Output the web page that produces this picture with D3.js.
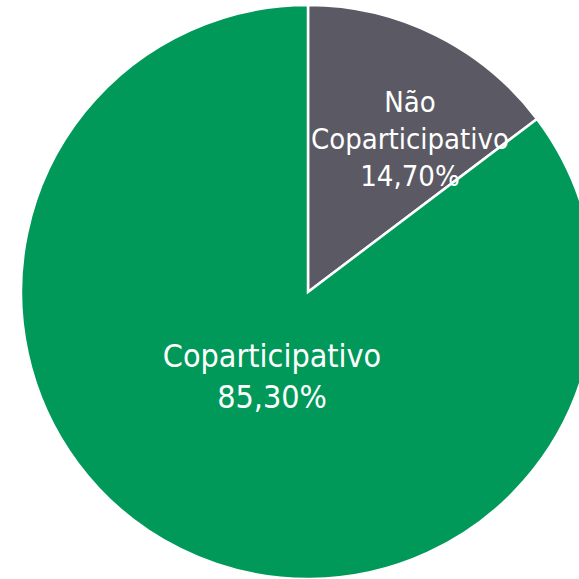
<!DOCTYPE html>
<html><head><meta charset="utf-8">
<script src="https://cdn.jsdelivr.net/npm/d3@7"></script>
<style>html,body{margin:0;padding:0;background:#fff;overflow:hidden}</style>
</head><body>
<svg id="c" width="579" height="579"></svg>
<script>
const categories = ["Não Coparticipativo", "Coparticipativo"];
const values = [14.70, 85.30];
const labelLines = [["Não", "Coparticipativo", "14,70%"], ["Coparticipativo", "85,30%"]];
const colors = ["#5b5a64", "#009959"];

const svg = d3.select("#c");
const cx = 308, cy = 292, r = 287;
const g = svg.append("g").attr("transform", `translate(${cx},${cy})`);
const pie = d3.pie().sort(null).value(d => d)(values);
const arc = d3.arc().innerRadius(0).outerRadius(r);
g.selectAll("path").data(pie).join("path")
  .attr("d", arc).attr("fill", (d,i) => colors[i])
  .attr("stroke", "#fff").attr("stroke-width", 2.5).attr("stroke-linejoin","miter");

// [x, first baseline y, line height, font size] relative to centre
const labelPos = [[102, -180, 37, 29], [-36, 75, 41, 32]];
pie.forEach((d, i) => {
  const lines = labelLines[i];
  const t = g.append("text").attr("text-anchor", "middle")
    .attr("font-family", "'DejaVu Sans Condensed', 'DejaVu Sans', sans-serif")
    .attr("font-size", labelPos[i][3]).attr("fill", "#fff");
  lines.forEach((s, k) => {
    t.append("tspan").attr("x", labelPos[i][0]).attr("y", labelPos[i][1] + k * labelPos[i][2]).text(s);
  });
});
</script>
</body></html>
